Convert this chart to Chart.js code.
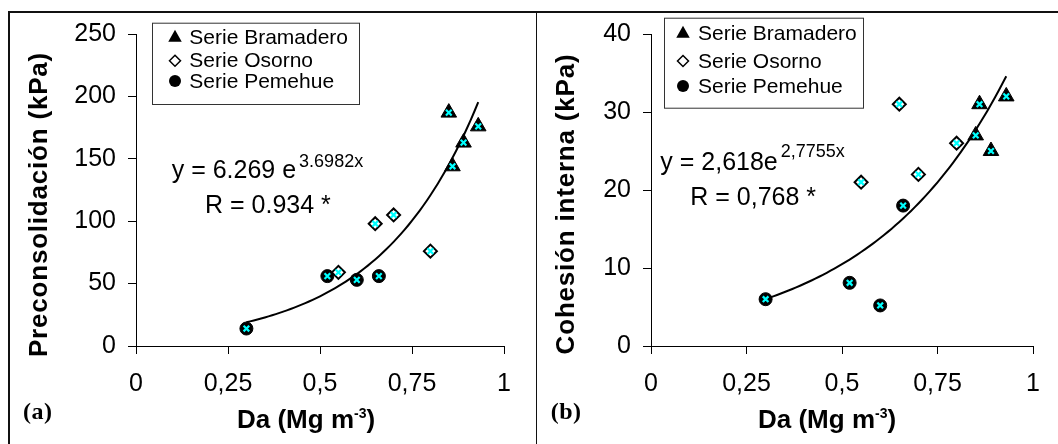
<!DOCTYPE html>
<html>
<head>
<meta charset="utf-8">
<script src="https://cdn.jsdelivr.net/npm/chart.js@4.4.1/dist/chart.umd.min.js"></script>
<style>
  body { margin: 0; background: #fff; width: 1058px; height: 444px; overflow: hidden; position: relative; }
  canvas { position: absolute; top: 0; }
  #c1 { left: 0; }
  #c2 { left: 537px; }
  .frame { position: absolute; background: #111; }
</style>
</head>
<body>
<canvas id="c1" width="536" height="444"></canvas>
<canvas id="c2" width="521" height="444"></canvas>
<div class="frame" style="left:8px;top:11px;width:1050px;height:2px"></div>
<div class="frame" style="left:8px;top:11px;width:2px;height:433px"></div>
<div class="frame" style="left:536px;top:11px;width:1px;height:433px"></div>
<script>
const seriesNames = ['Serie Bramadero', 'Serie Osorno', 'Serie Pemehue'];

const xTicks = [0, 0.25, 0.5, 0.75, 1];
const xTickLabels = ['0', '0,25', '0,5', '0,75', '1'];
const yTicksA = [0, 50, 100, 150, 200, 250];
const yTicksB = [0, 10, 20, 30, 40];

// densidad aparente (Mg m-3) por serie
const daBram = [0.85, 0.86, 0.89, 0.93];
const daOsor = [0.55, 0.65, 0.70, 0.80];
const daPeme = [0.30, 0.52, 0.60, 0.66];

// (a) preconsolidación, kPa
const preBram = [187, 144, 163, 176];
const preOsor = [59, 98, 105, 76];
const prePeme = [14, 56, 53, 56];

// (b) cohesión interna, kPa
const cohBram = [27, 31, 25, 32];
const cohOsor = [21, 31, 22, 26];
const cohPeme = [6, 8.1, 5.2, 18];

// ajuste exponencial y = a e^(b x)
const fitA = [6.269, 3.6982];
const fitB = [2.618, 2.7755];
const fitRange = [0.30, 0.93];

const FONT = '"Liberation Sans", Arial, sans-serif';

function pts(xs, ys) {
  return xs.map((x, i) => ({ x: x, y: ys[i] }));
}

function fitCurve(c) {
  const out = [];
  const n = 63;
  for (let i = 0; i <= n; i++) {
    const x = fitRange[0] + i * (fitRange[1] - fitRange[0]) / n;
    out.push({ x: x, y: c[0] * Math.exp(c[1] * x) });
  }
  return out;
}

function marker(ctx, style, x, y, r) {
  ctx.beginPath();
  if (style === 'triangle') {
    ctx.moveTo(x, y - r);
    ctx.lineTo(x + r * 0.9, y + r * 0.6);
    ctx.lineTo(x - r * 0.9, y + r * 0.6);
    ctx.closePath();
    ctx.fillStyle = '#000';
    ctx.fill();
  } else if (style === 'diamond') {
    ctx.moveTo(x, y - r);
    ctx.lineTo(x + r, y);
    ctx.lineTo(x, y + r);
    ctx.lineTo(x - r, y);
    ctx.closePath();
    ctx.fillStyle = '#fff';
    ctx.fill();
    ctx.lineWidth = 1.5;
    ctx.strokeStyle = '#000';
    ctx.stroke();
  } else {
    ctx.arc(x, y, r, 0, Math.PI * 2);
    ctx.fillStyle = '#000';
    ctx.fill();
  }
}

// titulos, ecuación y leyenda dibujados a mano
const panelText = {
  id: 'panelText',
  afterDraw(chart, args, o) {
    const ctx = chart.ctx;
    ctx.save();
    ctx.fillStyle = '#000';

    // título eje y
    ctx.save();
    ctx.translate(o.yTitle[0], o.yTitle[1]);
    ctx.rotate(-Math.PI / 2);
    ctx.font = 'bold 26px ' + FONT;
    ctx.letterSpacing = '0.8px';
    ctx.textAlign = 'center';
    ctx.textBaseline = 'alphabetic';
    ctx.fillText(o.yTitleText, 0, 0);
    ctx.restore();

    // título eje x con superíndice
    ctx.textAlign = 'left';
    ctx.textBaseline = 'alphabetic';
    let x = o.xTitle[0];
    const yb = o.xTitle[1];
    ctx.font = 'bold 26px ' + FONT;
    ctx.fillText('Da (Mg m', x, yb);
    x += ctx.measureText('Da (Mg m').width;
    ctx.font = 'bold 14px ' + FONT;
    ctx.fillText('-3', x, yb - 10);
    x += ctx.measureText('-3').width;
    ctx.font = 'bold 26px ' + FONT;
    ctx.fillText(')', x, yb);

    // letra del panel
    ctx.font = 'bold 24px "Liberation Serif", serif';
    ctx.letterSpacing = '0.5px';
    ctx.fillText(o.tag, o.tagPos[0], o.tagPos[1]);
    ctx.letterSpacing = '0px';

    // ecuación
    ctx.font = '25px ' + FONT;
    ctx.fillText(o.eqMain, o.eqPos[0], o.eqPos[1]);
    const w = ctx.measureText(o.eqMain).width;
    ctx.font = '18px ' + FONT;
    ctx.fillText(o.eqExp, o.eqPos[0] + w + 3, o.eqPos[1] - o.eqRaise);
    ctx.font = '25px ' + FONT;
    ctx.fillText(o.rText, o.rPos[0], o.rPos[1]);

    // leyenda
    const lg = o.legend;
    ctx.fillStyle = '#fff';
    ctx.fillRect(lg.box[0], lg.box[1], lg.box[2], lg.box[3]);
    ctx.strokeStyle = '#333';
    ctx.lineWidth = 1;
    ctx.strokeRect(lg.box[0] + 0.5, lg.box[1] + 0.5, lg.box[2], lg.box[3]);
    const styles = ['triangle', 'diamond', 'circle'];
    const radii = [7.5, 5.5, 6];
    seriesNames.forEach((name, i) => {
      marker(ctx, styles[i], lg.markerX, lg.rows[i], radii[i]);
      ctx.fillStyle = '#000';
      ctx.font = '21px ' + FONT;
      ctx.textBaseline = 'middle';
      ctx.fillText(name, lg.textX, lg.rows[i] + 1);
    });
    ctx.restore();
  }
};

function makeChart(id, d) {
  const allX = daBram.concat(daOsor, daPeme);
  const allY = d.bram.concat(d.osor, d.peme);
  return new Chart(document.getElementById(id), {
    type: 'scatter',
    data: {
      datasets: [
        {
          label: 'x',
          data: pts(allX, allY),
          pointStyle: 'crossRot',
          pointRadius: 4,
          borderColor: '#00ffff',
          borderWidth: 2.2,
          order: 0
        },
        {
          label: seriesNames[0],
          data: pts(daBram, d.bram),
          pointStyle: 'triangle',
          pointRadius: 9,
          backgroundColor: '#000',
          borderColor: '#000',
          borderWidth: 1,
          order: 1
        },
        {
          label: seriesNames[1],
          data: pts(daOsor, d.osor),
          pointStyle: 'rectRot',
          pointRadius: 6.5,
          backgroundColor: '#fff',
          borderColor: '#000',
          borderWidth: 2,
          order: 2
        },
        {
          label: seriesNames[2],
          data: pts(daPeme, d.peme),
          pointStyle: 'circle',
          pointRadius: 6.5,
          backgroundColor: '#000',
          borderColor: '#000',
          borderWidth: 1,
          order: 3
        },
        {
          label: 'ajuste',
          data: fitCurve(d.fit),
          showLine: true,
          pointRadius: 0,
          borderColor: '#000',
          borderWidth: 2,
          tension: 0,
          order: 4
        }
      ]
    },
    options: {
      responsive: false,
      animation: false,
      events: [],
      devicePixelRatio: 1,
      layout: { padding: { left: 0, right: d.padRight, top: 34, bottom: 0 } },
      plugins: {
        legend: { display: false },
        tooltip: { enabled: false },
        panelText: d.text
      },
      scales: {
        x: {
          type: 'linear',
          min: 0,
          max: 1,
          afterBuildTicks: s => { s.ticks = xTicks.map(v => ({ value: v })); },
          afterFit: s => { s.height = 98; },
          ticks: {
            callback: v => xTickLabels[xTicks.indexOf(v)],
            font: { family: FONT, size: 25 },
            color: '#000',
            padding: 15,
            maxRotation: 0,
            autoSkip: false
          },
          grid: { drawOnChartArea: false, tickLength: 8, color: '#000', lineWidth: 1 },
          border: { color: '#000', width: 1 }
        },
        y: {
          type: 'linear',
          min: 0,
          max: d.yTicks[d.yTicks.length - 1],
          afterBuildTicks: s => { s.ticks = d.yTicks.map(v => ({ value: v })); },
          afterFit: s => { s.width = d.yWidth; },
          ticks: {
            font: { family: FONT, size: 25 },
            color: '#000',
            padding: 12
          },
          grid: { drawOnChartArea: false, tickLength: 8, color: '#000', lineWidth: 1 },
          border: { color: '#000', width: 1 }
        }
      }
    },
    plugins: [panelText]
  });
}

makeChart('c1', {
  bram: preBram, osor: preOsor, peme: prePeme, fit: fitA,
  yTicks: yTicksA, yWidth: 136, padRight: 32,
  text: {
    yTitleText: 'Preconsolidación (kPa)', yTitle: [46.5, 204.5],
    xTitle: [237, 428], tag: '(a)', tagPos: [23, 419],
    eqMain: 'y = 6.269 e', eqExp: '3.6982x', eqPos: [171.7, 178.3], eqRaise: 11.6,
    rText: 'R = 0.934 *', rPos: [205, 213.3],
    legend: { box: [152, 22.7, 207, 81.3], markerX: 175, textX: 189.3, rows: [37.3, 60.7, 81] }
  }
});

makeChart('c2', {
  bram: cohBram, osor: cohOsor, peme: cohPeme, fit: fitB,
  yTicks: yTicksB, yWidth: 114, padRight: 25,
  text: {
    yTitleText: 'Cohesión interna (kPa)', yTitle: [37, 204],
    xTitle: [221, 428], tag: '(b)', tagPos: [13.7, 419],
    eqMain: 'y = 2,618e', eqExp: '2,7755x', eqPos: [123.3, 170], eqRaise: 13.3,
    rText: 'R = 0,768 *', rPos: [153.3, 205],
    legend: { box: [127, 17.7, 199, 90], markerX: 146, textX: 161, rows: [33.3, 61, 86] }
  }
});
</script>
</body>
</html>
